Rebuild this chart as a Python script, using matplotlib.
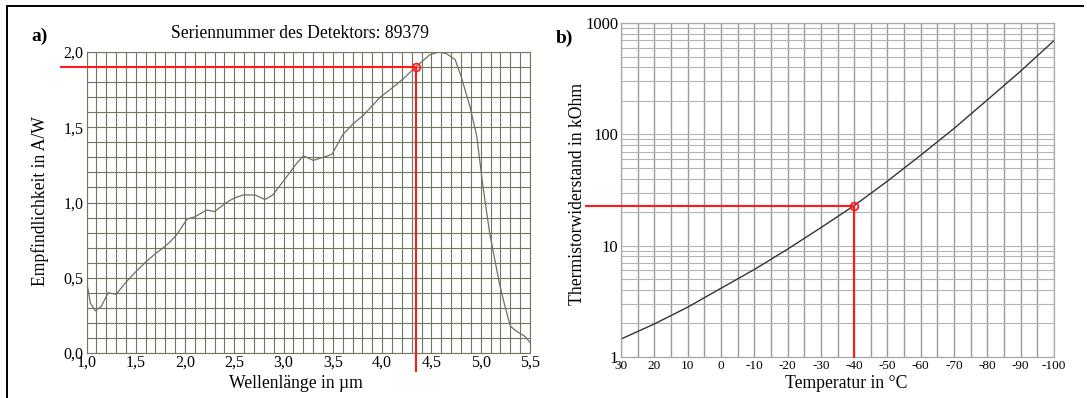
import numpy as np
import matplotlib
matplotlib.use("Agg")
import matplotlib.pyplot as plt
from matplotlib.ticker import FixedLocator, NullFormatter

# ---------------- data ----------------
# Panel a: spectral responsivity of detector
wavelength = [1.00, 1.04, 1.09, 1.15, 1.22, 1.30, 1.40, 1.50, 1.61, 1.70, 1.78, 1.85,
              1.92, 2.02, 2.10, 2.22, 2.30, 2.42, 2.50, 2.59, 2.71, 2.81, 2.89, 2.96,
              3.03, 3.12, 3.20, 3.30, 3.40, 3.49, 3.60, 3.70, 3.81, 3.98, 4.10, 4.21,
              4.34, 4.48, 4.57, 4.65, 4.74, 4.80, 4.89, 4.96, 5.02, 5.09, 5.19, 5.25,
              5.30, 5.35, 5.40, 5.45, 5.50]
responsivity = [0.48, 0.33, 0.28, 0.31, 0.40, 0.39, 0.47, 0.54, 0.61, 0.66, 0.70, 0.74,
                0.79, 0.89, 0.905, 0.95, 0.94, 1.00, 1.03, 1.05, 1.05, 1.02, 1.05, 1.11,
                1.17, 1.25, 1.31, 1.28, 1.30, 1.32, 1.45, 1.52, 1.58, 1.70, 1.76, 1.82,
                1.90, 1.98, 2.00, 1.99, 1.95, 1.84, 1.64, 1.44, 1.12, 0.80, 0.46, 0.30,
                0.18, 0.15, 0.13, 0.11, 0.07]
a_mark = (4.34, 1.90)
a_xticks = [1.0, 1.5, 2.0, 2.5, 3.0, 3.5, 4.0, 4.5, 5.0, 5.5]
a_xticklabels = ["1,0", "1,5", "2,0", "2,5", "3,0", "3,5", "4,0", "4,5", "5,0", "5,5"]
a_yticks = [0.0, 0.5, 1.0, 1.5, 2.0]
a_yticklabels = ["0,0", "0,5", "1,0", "1,5", "2,0"]

# Panel b: thermistor resistance
temperature = [30, 20, 10, 0, -10, -20, -30, -40, -50, -60, -70, -80, -90, -100]
resistance = [1.45, 1.98, 2.8, 4.14, 6.1, 9.3, 14.5, 22.9, 38, 65, 113, 204, 370, 695]
b_mark = (-40, 22.9)
b_xticks = [30, 20, 10, 0, -10, -20, -30, -40, -50, -60, -70, -80, -90, -100]
b_xticklabels = ["30", "20", "10", "0", "-10", "-20", "-30", "-40", "-50", "-60",
                 "-70", "-80", "-90", "-100"]
b_yticks = [1, 10, 100, 1000]
b_yticklabels = ["1", "10", "100", "1000"]

# ---------------- figure ----------------
W, H = 1087, 398
fig = plt.figure(figsize=(W / 100, H / 100), dpi=100)
plt.rcParams["font.family"] = ["Liberation Serif", "DejaVu Serif"]

def px_box(l, r, t, b):
    return [l / W, 1 - b / H, (r - l) / W, (b - t) / H]

RED = "#ff1a1a"
LAB = 12.7

# outer frame (left and top lines)
fig.add_artist(plt.Line2D([7 / W, 7 / W], [0, 1 - 6 / H], color="black", lw=1.4))
fig.add_artist(plt.Line2D([7 / W, 1083 / W], [1 - 6 / H, 1 - 6 / H], color="black", lw=1.4))

# ---------- panel a ----------
AL, AR, AT, AB = 86.5, 530, 52, 353
axa = fig.add_axes(px_box(AL, AR, AT, AB))
axa.set_xlim(1.0, 5.5)
axa.set_ylim(0.0, 2.0)
axa.xaxis.set_major_locator(FixedLocator(a_xticks))
axa.yaxis.set_major_locator(FixedLocator(a_yticks))
axa.set_xticklabels(a_xticklabels)
axa.set_yticklabels(a_yticklabels)
axa.xaxis.set_minor_locator(FixedLocator(np.arange(1.0, 5.51, 0.1)))
axa.yaxis.set_minor_locator(FixedLocator(np.arange(0.0, 2.01, 0.1)))
gcol = "#6f785f"
axa.grid(True, which="both", color=gcol, lw=0.8)
axa.set_axisbelow(True)
for s in axa.spines.values():
    s.set_color(gcol)
    s.set_linewidth(0.8)
axa.tick_params(which="both", length=0, labelsize=11.5, pad=2)
axa.tick_params(axis="x", pad=1)
axa.plot(wavelength, responsivity, color="#6b7263", lw=0.9)

# red construction lines
axa.plot([0.74, a_mark[0]], [a_mark[1], a_mark[1]], color=RED, lw=1.5, clip_on=False, zorder=5)
axa.plot([a_mark[0], a_mark[0]], [a_mark[1], -0.12], color=RED, lw=1.5, clip_on=False, zorder=5)
axa.plot([a_mark[0]], [a_mark[1]], marker="o", ms=5.5, mfc="none", mec=RED, mew=1.3, zorder=6)

axa.set_xlabel("Wellenlänge in µm", fontsize=LAB, va="center")
axa.xaxis.set_label_coords((296 - AL) / (AR - AL), -(384 - AB) / (AB - AT))
axa.set_ylabel("Empfindlichkeit in A/W", fontsize=LAB, va="center")
axa.yaxis.set_label_coords(-(AL - 40) / (AR - AL), 1 - (201 - AT) / (AB - AT))
axa.text((300 - AL) / (AR - AL), 1 + (AT - 33) / (AB - AT), "Seriennummer des Detektors: 89379",
         transform=axa.transAxes, fontsize=LAB, ha="center", va="center")
fig.text(40 / W, 1 - 36 / H, "a)", fontsize=14, fontweight="bold", ha="center", va="center")

# ---------- panel b ----------
BL, BR, BT, BB = 621, 1054, 23, 357
axb = fig.add_axes(px_box(BL, BR, BT, BB))
axb.set_yscale("log")
axb.set_xlim(30, -100)
axb.set_ylim(1, 1000)
axb.xaxis.set_major_locator(FixedLocator(b_xticks))
axb.set_xticklabels(b_xticklabels)
axb.yaxis.set_major_locator(FixedLocator(b_yticks))
axb.set_yticklabels(b_yticklabels)
axb.xaxis.set_minor_locator(FixedLocator(np.arange(-100, 31, 5)))
minor_y = [m * 10 ** d for d in range(3) for m in range(2, 10)]
axb.yaxis.set_minor_locator(FixedLocator(minor_y))
axb.yaxis.set_minor_formatter(NullFormatter())
axb.grid(True, axis="x", which="both", color="#9a9a9a", lw=1.0)
axb.grid(True, axis="y", which="both", color="#b4b4b4", lw=0.8)
axb.set_axisbelow(True)
for s in axb.spines.values():
    s.set_color("#a8a8a8")
    s.set_linewidth(0.9)
axb.tick_params(which="both", length=0)
axb.tick_params(axis="x", labelsize=9.5, pad=2)
axb.tick_params(axis="y", labelsize=12, pad=2)
axb.plot(temperature, resistance, color="#333333", lw=1.0)

axb.plot([40.5, b_mark[0]], [b_mark[1], b_mark[1]], color=RED, lw=1.5, clip_on=False, zorder=5)
axb.plot([b_mark[0], b_mark[0]], [b_mark[1], 1], color=RED, lw=1.5, clip_on=False, zorder=5)
axb.plot([b_mark[0]], [b_mark[1]], marker="o", ms=5.5, mfc="none", mec=RED, mew=1.3, zorder=6)

axb.set_xlabel("Temperatur in °C", fontsize=LAB, va="center")
axb.xaxis.set_label_coords((846 - BL) / (BR - BL), -(383 - BB) / (BB - BT))
axb.set_ylabel("Thermistorwiderstand in kOhm", fontsize=LAB, va="center")
axb.yaxis.set_label_coords(-(BL - 577) / (BR - BL), 1 - (194 - BT) / (BB - BT))
fig.text(564 / W, 1 - 38 / H, "b)", fontsize=14, fontweight="bold", ha="center", va="center")

fig.savefig("out.png", dpi=100, facecolor="white")
